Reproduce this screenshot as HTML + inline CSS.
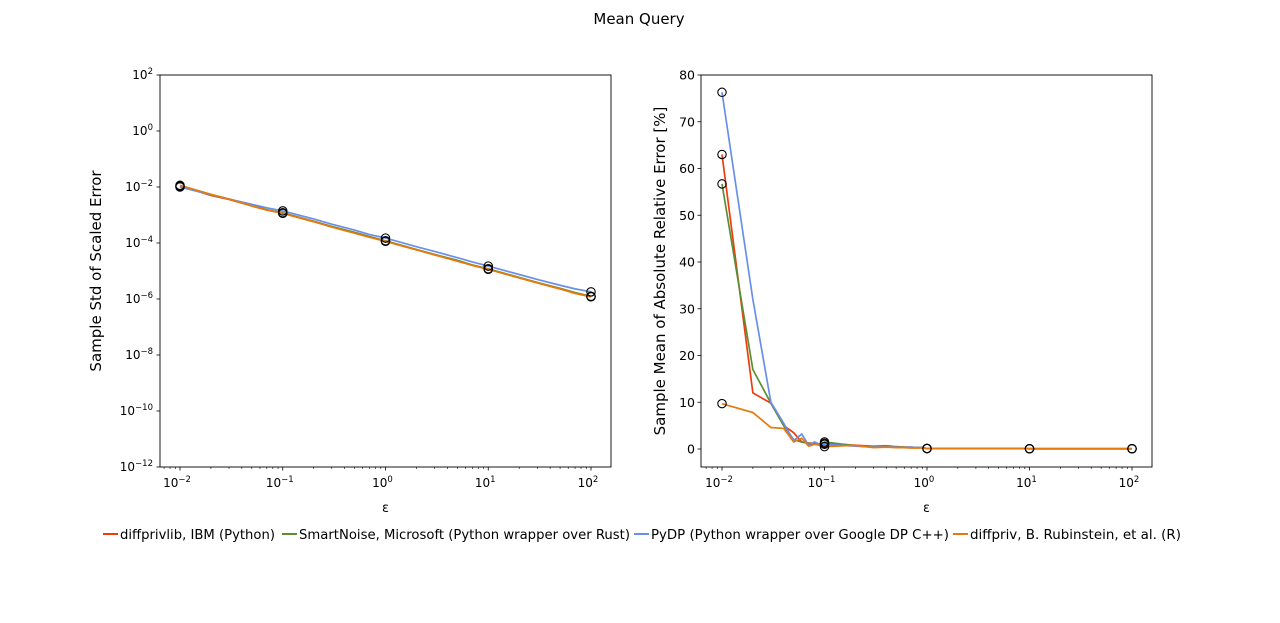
<!DOCTYPE html>
<html><head><meta charset="utf-8">
<style>
html,body{margin:0;padding:0;background:#fff;}
svg{display:block;font-family:"DejaVu Sans","Liberation Sans",sans-serif;}
</style></head>
<body>
<svg id="chart" width="1280" height="623" viewBox="0 0 1280 623">
<text x="639" y="24" text-anchor="middle" font-size="15">Mean Query</text>
</svg>
<script>
// Data
const seriesNames = ["diffprivlib, IBM (Python)","SmartNoise, Microsoft (Python wrapper over Rust)","PyDP (Python wrapper over Google DP C++)","diffpriv, B. Rubinstein, et al. (R)"];
const seriesColors = ["#f03c0c","#5b8f36","#6a8fe8","#e8790c"];
const epsLeft = [0.01,0.02,0.03,0.05,0.07,0.1,0.2,0.3,0.5,0.7,1,2,3,5,7,10,20,30,50,70,100];
const stdRed = [1.1e-2,5e-3,3.6e-3,2.1e-3,1.5e-3,1.15e-3,5.8e-4,3.8e-4,2.3e-4,1.65e-4,1.15e-4,5.7e-5,3.8e-5,2.3e-5,1.6e-5,1.15e-5,5.7e-6,3.8e-6,2.3e-6,1.6e-6,1.2e-6];
const stdGreen = [1.05e-2,5.2e-3,3.7e-3,2.2e-3,1.55e-3,1.2e-3,6e-4,3.9e-4,2.4e-4,1.7e-4,1.2e-4,5.9e-5,3.9e-5,2.4e-5,1.65e-5,1.2e-5,5.9e-6,3.9e-6,2.4e-6,1.7e-6,1.25e-6];
const stdBlue = [1.0e-2,5.3e-3,3.7e-3,2.4e-3,1.8e-3,1.4e-3,7.2e-4,4.7e-4,2.9e-4,2.0e-4,1.5e-4,7.4e-5,5e-5,3e-5,2.1e-5,1.5e-5,7.5e-6,5e-6,3.1e-6,2.3e-6,1.8e-6];
const stdOrange = [1.15e-2,5.5e-3,3.7e-3,2.1e-3,1.5e-3,1.15e-3,5.8e-4,3.7e-4,2.25e-4,1.6e-4,1.15e-4,5.7e-5,3.8e-5,2.25e-5,1.6e-5,1.15e-5,5.7e-6,3.8e-6,2.3e-6,1.6e-6,1.2e-6];
const epsRight = [0.01,0.02,0.03,0.04,0.05,0.06,0.07,0.08,0.09,0.1,0.2,0.3,0.4,0.5,0.6,0.7,0.8,0.9,1,2,3,4,5,6,7,8,9,10,20,30,40,50,60,70,80,90,100];
const errRed = [63,12,9.8,5,3.5,1.5,1.3,1.2,1.0,1.2,0.8,0.6,0.7,0.5,0.4,0.4,0.3,0.3,0.1,0.1,0.1,0.1,0.1,0.1,0.1,0.1,0.1,0.05,0.05,0.05,0.05,0.05,0.05,0.05,0.05,0.05,0.05];
const errGreen = [56.7,17,9.8,5,2,1.5,1.2,1.0,1.0,1.5,0.7,0.5,0.5,0.4,0.4,0.3,0.3,0.3,0.1,0.1,0.1,0.1,0.1,0.1,0.1,0.1,0.1,0.05,0.05,0.05,0.05,0.05,0.05,0.05,0.05,0.05,0.05];
const errBlue = [76.3,32,10,5.5,1.8,3.2,0.8,1.5,1.0,1.0,0.6,0.4,0.5,0.4,0.3,0.4,0.3,0.3,0.1,0.1,0.1,0.1,0.1,0.1,0.1,0.1,0.1,0.05,0.05,0.05,0.05,0.05,0.05,0.05,0.05,0.05,0.05];
const errOrange = [9.7,7.8,4.6,4.4,1.5,2.3,0.6,1.0,0.8,0.5,0.8,0.3,0.4,0.3,0.3,0.2,0.2,0.2,0.1,0.1,0.1,0.1,0.1,0.1,0.1,0.1,0.1,0.05,0.05,0.05,0.05,0.05,0.05,0.05,0.05,0.05,0.05];
const leftYTickExp = [2,0,-2,-4,-6,-8,-10,-12];
const rightYTicks = [0,10,20,30,40,50,60,70,80];
const xTickExp = [-2,-1,0,1,2];

const NS="http://www.w3.org/2000/svg";
const svg=document.getElementById('chart');
function mk(tag,attrs,parent){const e=document.createElementNS(NS,tag);for(const k in attrs)e.setAttribute(k,attrs[k]);(parent||svg).appendChild(e);return e;}

const L={x0:160,x1:611,y0:75,y1:467};
const R={x0:701,x1:1152,y0:75,y1:467};
function xLog(ax,e,v){const a=ax===L?180:722, b=ax===L?591:1132;return a+(Math.log10(v)+2)*(b-a)/4;}
function yLogL(v){return 75+(2-Math.log10(v))*28;}
function yLinR(v){return 449-v*(374/80);}

function drawXAxis(ax,name){
  const g=mk('g',{});
  
  
  for(let d=-3;d<=2;d++){for(let m=1;m<=9;m++){const v=m*Math.pow(10,d);const x=xLog(ax,0,v);if(x<ax.x0||x>ax.x1)continue;
    const major=m===1;mk('line',{x1:x,x2:x,y1:ax.y1,y2:ax.y1+(major?3.5:2),stroke:'#000','stroke-width':major?0.8:0.6},g);}}
  xTickExp.forEach(p=>{const x=xLog(ax,0,Math.pow(10,p));
    const t=mk('text',{x:x-3,y:ax.y1+20,'text-anchor':'middle','font-size':12},g);
    
    
    t.appendChild(document.createTextNode('10'));
    const s=mk('tspan',{dy:-5,'font-size':8.5},t);s.textContent=(p<0?'\u2212':'')+Math.abs(p);});
  const lbl=mk('text',{x:(ax.x0+ax.x1)/2,y:ax.y1+45,'text-anchor':'middle','font-size':13},g);
  
  
  lbl.textContent='\u03b5';
}
drawXAxis(L,'left-x-axis');drawXAxis(R,'right-x-axis');

const gly=mk('g',{});


leftYTickExp.forEach(p=>{const y=yLogL(Math.pow(10,p));
  mk('line',{x1:L.x0-3.5,x2:L.x0,y1:y,y2:y,stroke:'#000','stroke-width':0.8},gly);
  const t=mk('text',{x:L.x0-7,y:y+4,'text-anchor':'end','font-size':12},gly);
  
  
  t.appendChild(document.createTextNode('10'));
  const s=mk('tspan',{dy:-5,'font-size':8.5},t);s.textContent=(p<0?'\u2212':'')+Math.abs(p);});
const ylt=mk('text',{x:0,y:0,'text-anchor':'middle','font-size':15,transform:`translate(101,271) rotate(-90)`},gly);


ylt.textContent='Sample Std of Scaled Error';

const gry=mk('g',{});


rightYTicks.forEach(v=>{const y=yLinR(v);
  mk('line',{x1:R.x0-3.5,x2:R.x0,y1:y,y2:y,stroke:'#000','stroke-width':0.8},gry);
  const t=mk('text',{x:R.x0-6,y:y+4.5,'text-anchor':'end','font-size':12.5},gry);
  
  
  t.textContent=v;});
const yrt=mk('text',{x:0,y:0,'text-anchor':'middle','font-size':15,transform:`translate(665,271) rotate(-90)`},gry);


yrt.textContent='Sample Mean of Absolute Relative Error [%]';

const leftData=[stdRed,stdGreen,stdBlue,stdOrange];
const rightData=[errRed,errGreen,errBlue,errOrange];
const drawOrder=[0,1,2,3];
drawOrder.forEach(i=>{
  const pts=epsLeft.map((e,j)=>xLog(L,0,e).toFixed(2)+','+yLogL(leftData[i][j]).toFixed(2)).join(' ');
  const pl=mk('polyline',{points:pts,fill:'none',stroke:seriesColors[i],'stroke-width':1.7});
  
  
  const pts2=epsRight.map((e,j)=>xLog(R,0,e).toFixed(2)+','+yLinR(rightData[i][j]).toFixed(2)).join(' ');
  const pl2=mk('polyline',{points:pts2,fill:'none',stroke:seriesColors[i],'stroke-width':1.7});
  
  
});
const decades=[0.01,0.1,1,10,100];
drawOrder.forEach(i=>{
  decades.forEach(d=>{
    const jl=epsLeft.indexOf(d), jr=epsRight.indexOf(d);
    const c=mk('circle',{cx:xLog(L,0,d),cy:yLogL(leftData[i][jl]),r:4.2,fill:'none',stroke:'#000','stroke-width':1.1});
    
    
    const c2=mk('circle',{cx:xLog(R,0,d),cy:yLinR(rightData[i][jr]),r:4.2,fill:'none',stroke:'#000','stroke-width':1.1});
    
    
  });
});
const f1=mk('rect',{x:L.x0,y:L.y0,width:L.x1-L.x0,height:L.y1-L.y0,fill:'none',stroke:'#000','stroke-width':0.9});


const f2=mk('rect',{x:R.x0,y:R.y0,width:R.x1-R.x0,height:R.y1-R.y0,fill:'none',stroke:'#000','stroke-width':0.9});



const legX=[103,282,634,953];
const legW=[155,331,298,211];
const lg=mk('g',{});


seriesNames.forEach((n,i)=>{
  const e=mk('g',{},lg);
  
  
  mk('line',{x1:legX[i],x2:legX[i]+15,y1:534,y2:534,stroke:seriesColors[i],'stroke-width':2},e);
  const t=mk('text',{x:legX[i]+17,y:539,'font-size':13,textLength:legW[i],lengthAdjust:'spacingAndGlyphs'},e);
  t.textContent=n;
});
</script>
</body></html>
